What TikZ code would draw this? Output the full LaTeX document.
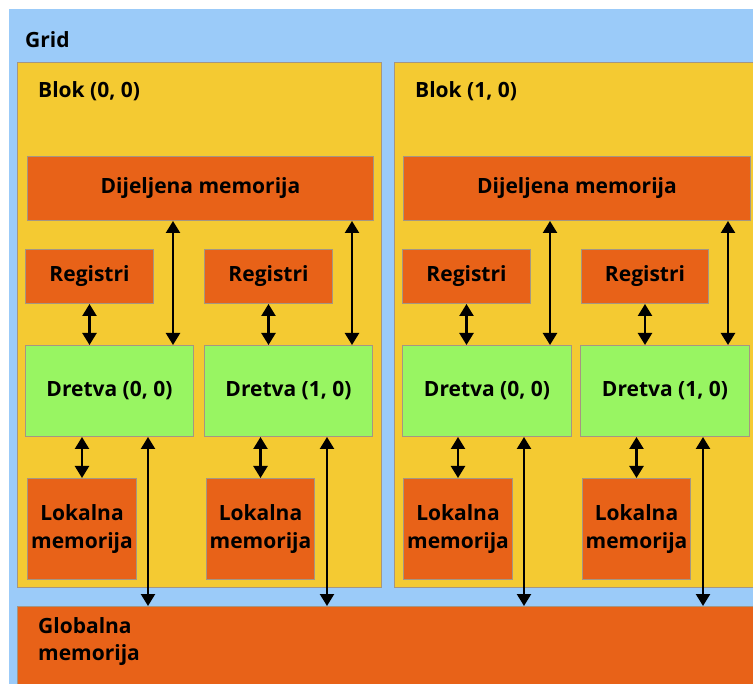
\documentclass[tikz,border=0pt]{standalone}
\usepackage{fontspec}
\setmainfont{Open Sans}
\usetikzlibrary{arrows.meta,calc}
\definecolor{gridblue}{RGB}{155,203,249}
\definecolor{blockyellow}{RGB}{244,202,50}
\definecolor{memorange}{RGB}{232,98,24}
\definecolor{threadgreen}{RGB}{152,245,98}
\definecolor{boxline}{RGB}{165,150,130}
\begin{document}
\begin{tikzpicture}[x=1pt,y=-1pt,
  box/.style={draw=boxline, line width=1pt, anchor=north west, inner sep=0pt,
    font=\bfseries\fontsize{21}{28}\selectfont, text=black, align=center},
  lbl/.style={font=\bfseries\fontsize{21}{27}\selectfont, text=black, inner sep=0pt},
  blockbox/.style={box, fill=blockyellow},
  membox/.style={box, fill=memorange},
  threadbox/.style={box, fill=threadgreen},
  link/.style={line width=2.3pt, black, {Triangle[width=14pt,length=12pt]}-{Triangle[width=14pt,length=12pt]}, shorten <=0pt, shorten >=0pt}
]
\useasboundingbox (0,0) rectangle (753,684);
\clip (0,0) rectangle (753,684);
\fill[white] (0,0) rectangle (753,684);
\node[box, fill=gridblue, draw=none, minimum width=760, minimum height=690] (grid) at (8,9) {};
\node[lbl, anchor=west] (gridlbl) at (25,40) {Grid};

% blocks
\node[blockbox, minimum width=364, minimum height=525] (b0) at (17,62) {};
\node[blockbox, minimum width=380, minimum height=525] (b1) at (394,62) {};
\node[lbl, anchor=west] (b0lbl) at (38,91) {Blok (0, 0)};
\node[lbl, anchor=west] (b1lbl) at (415,91) {Blok (1, 0)};

% shared memory
\node[membox, minimum width=346, minimum height=64] (sh0) at (27,156) {Dijeljena memorija};
\node[membox, minimum width=347, minimum height=64] (sh1) at (403,156) {Dijeljena memorija};

% registers
\node[membox, minimum width=128, minimum height=54] (r00) at (25,249) {Registri};
\node[membox, minimum width=128, minimum height=54] (r01) at (204,249) {Registri};
\node[membox, minimum width=128, minimum height=54] (r10) at (402,249) {Registri};
\node[membox, minimum width=127, minimum height=54] (r11) at (581,249) {Registri};

% threads
\node[threadbox, minimum width=168, minimum height=91] (t00) at (25,345) {Dretva (0, 0)};
\node[threadbox, minimum width=168, minimum height=91] (t01) at (204,345) {Dretva (1, 0)};
\node[threadbox, minimum width=169, minimum height=91] (t10) at (402,345) {Dretva (0, 0)};
\node[threadbox, minimum width=169, minimum height=91] (t11) at (580,345) {Dretva (1, 0)};

% local memory
\node[membox, minimum width=109, minimum height=101] (l00) at (27,478) {Lokalna\\memorija};
\node[membox, minimum width=108, minimum height=101] (l01) at (206,478) {Lokalna\\memorija};
\node[membox, minimum width=109, minimum height=101] (l10) at (403,478) {Lokalna\\memorija};
\node[membox, minimum width=108, minimum height=101] (l11) at (582,478) {Lokalna\\memorija};

% global memory
\node[membox, minimum width=760, minimum height=90] (glob) at (17,606) {};
\node[lbl, anchor=north west, align=left] (globlbl) at (38,617) {Globalna\\memorija};

% connectors: shared <-> threads
\draw[link] (sh0.south -| 173,0) -- (t00.north -| 173,0);
\draw[link] (sh0.south -| 352,0) -- (t01.north -| 352,0);
\draw[link] (sh1.south -| 550,0) -- (t10.north -| 550,0);
\draw[link] (sh1.south -| 728,0) -- (t11.north -| 728,0);
% registers <-> threads
\draw[link] (r00.south) -- (t00.north -| r00.south);
\draw[link] (r01.south) -- (t01.north -| r01.south);
\draw[link] (r10.south) -- (t10.north -| r10.south);
\draw[link] (r11.south) -- (t11.north -| r11.south);
% threads <-> local
\draw[link] (t00.south -| l00.north) -- (l00.north);
\draw[link] (t01.south -| l01.north) -- (l01.north);
\draw[link] (t10.south -| l10.north) -- (l10.north);
\draw[link] (t11.south -| l11.north) -- (l11.north);
% threads <-> global
\draw[link] (t00.south -| 148,0) -- (glob.north -| 148,0);
\draw[link] (t01.south -| 327,0) -- (glob.north -| 327,0);
\draw[link] (t10.south -| 524,0) -- (glob.north -| 524,0);
\draw[link] (t11.south -| 703,0) -- (glob.north -| 703,0);
\end{tikzpicture}
\end{document}
